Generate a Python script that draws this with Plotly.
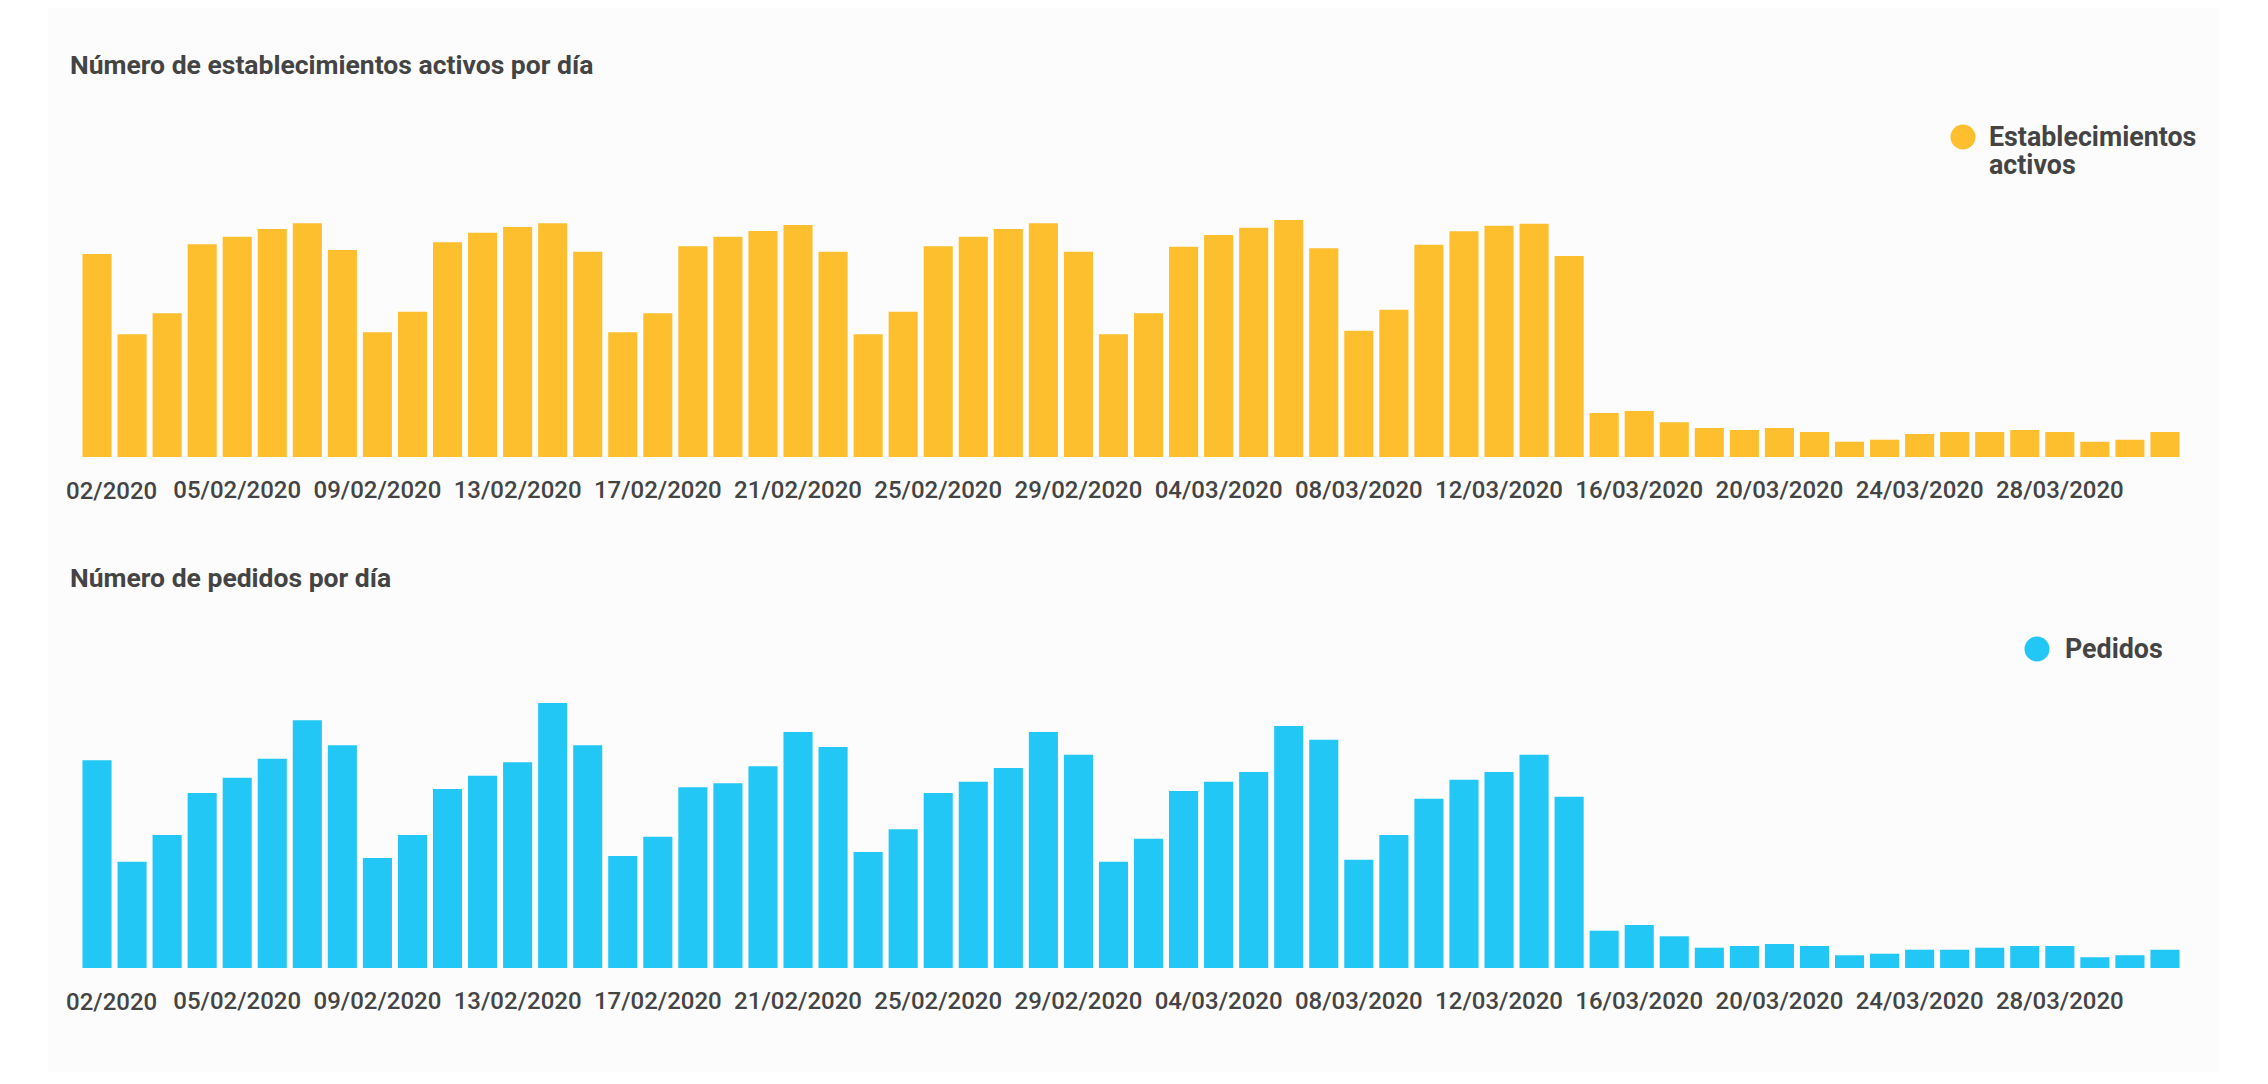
import plotly.graph_objects as go
import pandas as pd

# ---------------- data ----------------
dates = pd.date_range("2020-02-01", "2020-03-31", freq="D").strftime("%Y-%m-%d").tolist()

establecimientos = [
    2030, 1227, 1437, 2127, 2203, 2280, 2337, 2070, 1247, 1453, 2147, 2243, 2300, 2337, 2053,
    1247, 1437, 2107, 2203, 2260, 2320, 2053, 1227, 1453, 2107, 2203, 2280, 2337, 2053,
    1227, 1437, 2103, 2220, 2293, 2370, 2087, 1263, 1473, 2123, 2257, 2313, 2333, 2010,
    440, 460, 347, 290, 270, 290, 250, 153, 173, 230, 250, 250, 270, 250, 153, 173, 250,
]

pedidos = [
    2077, 1063, 1330, 1750, 1903, 2093, 2477, 2227, 1100, 1330, 1790, 1923, 2057, 2650, 2227,
    1120, 1313, 1807, 1847, 2017, 2360, 2210, 1160, 1387, 1750, 1863, 2000, 2360, 2133,
    1063, 1293, 1770, 1863, 1960, 2420, 2283, 1083, 1330, 1693, 1883, 1960, 2133, 1713,
    373, 430, 317, 203, 220, 240, 220, 127, 143, 183, 183, 203, 220, 220, 107, 127, 183,
]

tick_dates = pd.date_range("2020-02-05", "2020-03-28", freq="4D").strftime("%Y-%m-%d").tolist()
first_tick_label = "02/2020"

title_top = "Número de establecimientos activos por día"
title_bottom = "Número de pedidos por día"
legend_top = ["Establecimientos", "activos"]
legend_bottom = "Pedidos"

YELLOW = "#FDBF2D"
BLUE = "#22C7F5"
TEXT = "#444444"

# page body has an 8px margin: figure sized to fit, coordinates given in page pixels
OFF = 8
W, H = 2252, 1068


def px_x(x):
    return (x - OFF) / W


def px_y(y):
    return 1 - (y - OFF) / H


fig = go.Figure()
fig.add_trace(go.Bar(x=dates, y=establecimientos, marker=dict(color=YELLOW, line=dict(width=0)),
                     name="Establecimientos activos", xaxis="x", yaxis="y", showlegend=False))
fig.add_trace(go.Bar(x=dates, y=pedidos, marker=dict(color=BLUE, line=dict(width=0)),
                     name="Pedidos", xaxis="x2", yaxis="y2", showlegend=False))

tick_font = dict(family="Roboto", size=24, color=TEXT, weight=500)
xdom = [px_x(79.5), px_x(2182.5)]
xcommon = dict(
    type="date",
    range=["2020-01-31 12:00", "2020-03-31 12:00"],
    tickvals=tick_dates,
    tickformat="%d/%m/%Y",
    showgrid=False, zeroline=False, showline=False,
    ticks="outside", ticklen=11, tickcolor="rgba(0,0,0,0)",
    tickfont=tick_font,
    domain=xdom, fixedrange=True,
)
ycommon = dict(showgrid=False, zeroline=False, showline=False, showticklabels=False, fixedrange=True)

fig.update_layout(
    width=W, height=H, autosize=False,
    margin=dict(l=0, r=0, t=0, b=0),
    paper_bgcolor="#ffffff", plot_bgcolor="rgba(0,0,0,0)",
    bargap=0.17,
    showlegend=False,
    xaxis=dict(**xcommon, anchor="y"),
    yaxis=dict(**ycommon, domain=[px_y(457), px_y(180)], range=[0, 2770], anchor="x"),
    xaxis2=dict(**xcommon, anchor="y2"),
    yaxis2=dict(**ycommon, domain=[px_y(968), px_y(690)], range=[0, 2780], anchor="x2"),
)

# card background
fig.add_shape(type="rect", xref="paper", yref="paper", x0=px_x(48), x1=px_x(2218),
              y0=px_y(1072), y1=px_y(8), fillcolor="#fcfcfc", line=dict(width=0), layer="below")

ann = []
title_font = dict(family="Roboto", size=26.5, color=TEXT)
ann.append(dict(text=f"<b>{title_top}</b>", x=px_x(68), y=px_y(65), xref="paper", yref="paper",
                xanchor="left", yanchor="middle", showarrow=False, font=title_font))
ann.append(dict(text=f"<b>{title_bottom}</b>", x=px_x(68), y=px_y(577), xref="paper", yref="paper",
                xanchor="left", yanchor="middle", showarrow=False, font=title_font))

# clipped first tick labels
for yc in (490.5, 1001.5):
    ann.append(dict(text=first_tick_label, x=px_x(159), y=px_y(yc), xref="paper", yref="paper",
                    xanchor="right", yanchor="middle", showarrow=False, font=tick_font))

# legends
leg_font = dict(family="Roboto", size=26.8, color=TEXT)
ann.append(dict(text=f"<b>{legend_top[0]}</b>", x=px_x(1987), y=px_y(137), xref="paper", yref="paper",
                xanchor="left", yanchor="middle", showarrow=False, font=leg_font))
ann.append(dict(text=f"<b>{legend_top[1]}</b>", x=px_x(1987), y=px_y(165), xref="paper", yref="paper",
                xanchor="left", yanchor="middle", showarrow=False, font=leg_font))
ann.append(dict(text=f"<b>{legend_bottom}</b>", x=px_x(2063), y=px_y(649), xref="paper", yref="paper",
                xanchor="left", yanchor="middle", showarrow=False, font=leg_font))
fig.update_layout(annotations=ann)

for cx, cy, col in ((1963, 137, YELLOW), (2037, 649, BLUE)):
    fig.add_shape(type="circle", xref="paper", yref="paper",
                  x0=px_x(cx - 12.5), x1=px_x(cx + 12.5), y0=px_y(cy + 12.5), y1=px_y(cy - 12.5),
                  fillcolor=col, line=dict(width=0))

fig.write_html("out.html", config={"displayModeBar": False})
